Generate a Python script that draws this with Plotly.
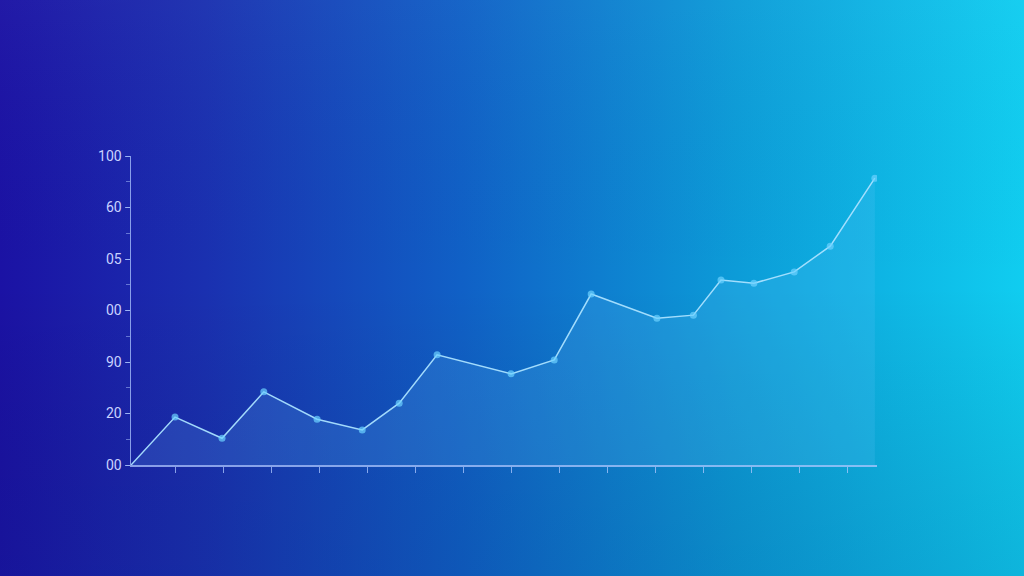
import plotly.graph_objects as go
import base64

# ---- data ----
x_vals = [0.083, 1.0, 1.98, 2.85, 3.96, 4.9, 5.67, 6.46, 8.0, 8.9, 9.67,
          11.04, 11.8, 12.375, 13.06, 13.9, 14.65, 15.58]
y_vals = [0.0, 0.93, 0.52, 1.42, 0.89, 0.68, 1.2, 2.14, 1.77, 2.04, 3.32,
          2.85, 2.91, 3.59, 3.53, 3.75, 4.25, 5.57]
y_tickvals = [0, 1, 2, 3, 4, 5, 6]
y_ticktext = ["00", "20", "90", "00", "05", "60", "100"]
x_tickvals = list(range(1, 16))

# ---- background gradient as SVG ----
svg = """<svg xmlns='http://www.w3.org/2000/svg' width='1024' height='576' viewBox='0 0 1024 576' preserveAspectRatio='none'>
<defs>
<linearGradient id='h' x1='0' y1='0' x2='1' y2='0'>
<stop offset='0' stop-color='#1b12a4'/>
<stop offset='0.2' stop-color='#1a30b0'/>
<stop offset='0.45' stop-color='#1060c6'/>
<stop offset='0.72' stop-color='#0c9cd8'/>
<stop offset='1' stop-color='#10cdf0'/>
</linearGradient>
<linearGradient id='v' x1='0' y1='0' x2='0' y2='1'>
<stop offset='0' stop-color='#ffffff' stop-opacity='0.03'/>
<stop offset='0.5' stop-color='#000000' stop-opacity='0'/>
<stop offset='1' stop-color='#002060' stop-opacity='0.14'/>
</linearGradient>
</defs>
<rect width='1024' height='576' fill='url(#h)'/>
<rect width='1024' height='576' fill='url(#v)'/>
</svg>"""
bg_uri = "data:image/svg+xml;base64," + base64.b64encode(svg.encode()).decode()

sizes = [0] + [7] * (len(x_vals) - 1)

fig = go.Figure()
fig.add_trace(go.Scatter(
    x=x_vals, y=y_vals,
    mode="lines+markers",
    fill="tozeroy",
    fillcolor="rgba(110,200,255,0.16)",
    line=dict(color="rgba(170,225,255,0.95)", width=1.5),
    marker=dict(size=sizes, color="#6cd2ff", line=dict(width=0)),
    hoverinfo="skip",
))

axis_col = "rgba(175,200,255,0.75)"
fig.update_layout(
    width=1024, height=576,
    margin=dict(l=131, r=147, t=156, b=111),
    paper_bgcolor="rgba(0,0,0,0)",
    plot_bgcolor="rgba(0,0,0,0)",
    showlegend=False,
    font=dict(family="Roboto, sans-serif", size=14, color="#c9d2ff"),
    images=[dict(source=bg_uri, xref="paper", yref="paper", x=-131/746, y=1+156/309,
                 sizex=1024/746, sizey=576/309, sizing="stretch", layer="below",
                 xanchor="left", yanchor="top")],
    xaxis=dict(range=[0.083, 15.625], showgrid=False, zeroline=False,
               showline=True, linecolor=axis_col, linewidth=1.5,
               tickvals=x_tickvals, ticktext=[""] * len(x_tickvals),
               ticks="outside", ticklen=6, tickcolor=axis_col, tickwidth=1),
    yaxis=dict(range=[0, 6], showgrid=False, zeroline=False,
               showline=True, linecolor=axis_col, linewidth=1.5,
               tickvals=y_tickvals, ticktext=y_ticktext,
               ticks="outside", ticklen=5, tickcolor=axis_col, tickwidth=1,
               minor=dict(dtick=0.5, tick0=0, ticks="outside", ticklen=4,
                          tickcolor="rgba(175,200,255,0.5)", showgrid=False)),
)

fig.write_html("out.html",
               config={"displayModeBar": False, "staticPlot": True},
               post_script="document.body.style.margin='0';document.body.style.overflow='hidden';")
